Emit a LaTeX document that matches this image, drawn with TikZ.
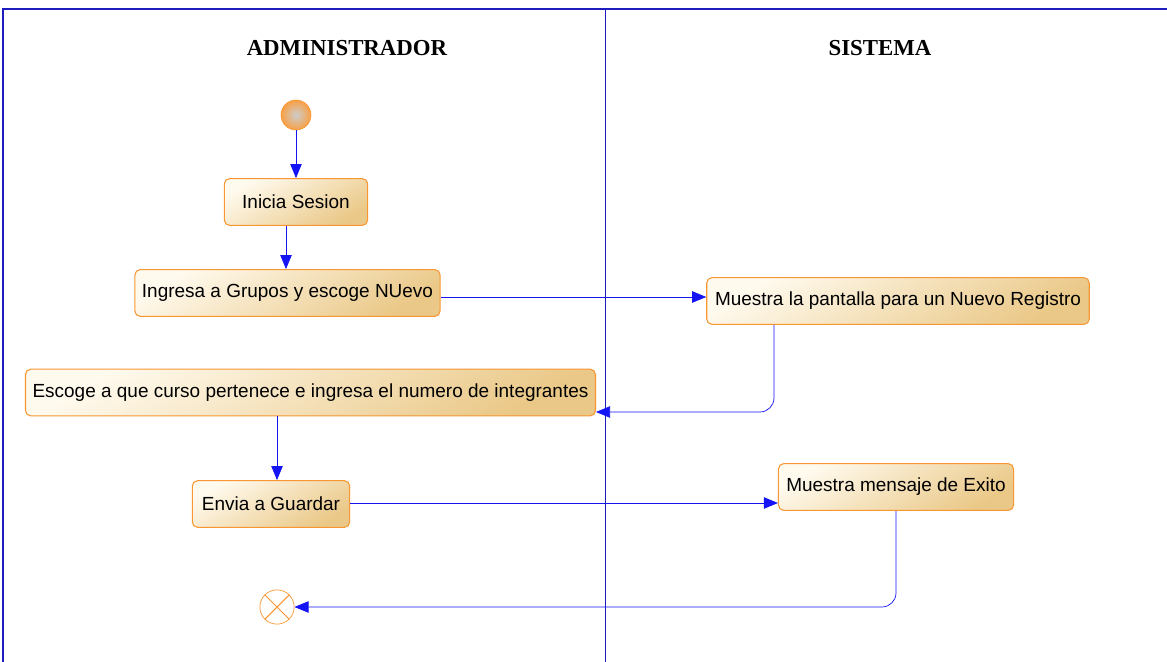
\documentclass[tikz,border=0pt]{standalone}
\usepackage{fontspec}
\setmainfont{Liberation Sans}
\newfontfamily\headfont{Liberation Serif}
\usepackage{tikz}
\usetikzlibrary{arrows.meta,positioning}

\definecolor{actborder}{RGB}{247,150,50}
\definecolor{actlight}{RGB}{255,250,238}
\definecolor{actdark}{RGB}{234,200,135}
\definecolor{flowblue}{RGB}{20,20,245}
\definecolor{lanecol}{RGB}{30,30,190}

\begin{document}
\begin{tikzpicture}[
  x=0.02cm, y=-0.02cm,
  activity/.style={rectangle, rounded corners=3pt, draw=actborder, semithick,
                   top color=actlight, bottom color=actdark, shading angle=30,
                   minimum height=26.6pt, inner xsep=4pt, font=\fontsize{10.8}{12}\selectfont},
  lanehead/.style={font=\headfont\bfseries\fontsize{13}{15}\selectfont},
  flow/.style={-{Triangle[length=8pt,width=6.5pt]}, flowblue, rounded corners=8pt}
]
\useasboundingbox (0,0) rectangle (1167,662);

% swimlanes
\draw[lanecol, thick] (3,662) -- (3,9) -- (1167,9);
\draw[lanecol] (605,9) -- (605,662);
\node[lanehead] (admin) at (347,48) {ADMINISTRADOR};
\node[lanehead] (sistema) at (880,48) {SISTEMA};

% start / end
\node[circle, draw=actborder, minimum size=17pt, inner sep=0pt,
      inner color=gray!40, outer color=actborder!90] (inicio) at (296,115) {};
\node[circle, draw=actborder, minimum size=19.5pt, inner sep=0pt, fill=white] (fin) at (277,607) {};
\draw[actborder, semithick] (fin.north west) -- (fin.south east)
                            (fin.north east) -- (fin.south west);

% activities
\node[activity, minimum width=81.6pt] (sesion) at (296,202) {Inicia Sesion};
\node[activity, minimum width=170.6pt] (grupos) at (287.5,293) {Ingresa a Grupos y escoge NUevo};
\node[activity, minimum width=217.7pt] (pantalla) at (898,301) {Muestra la pantalla para un Nuevo Registro};
\node[activity, minimum width=323.7pt] (curso) at (310.5,392.5) {Escoge a que curso pertenece e ingresa el numero de integrantes};
\node[activity, minimum width=89.5pt] (guardar) at (271,504) {Envia a Guardar};
\node[activity, minimum width=133.8pt] (exito) at (896,487) {Muestra mensaje de Exito};

% flows
\draw[flow] (inicio) -- (sesion);
\draw[flow] (sesion.south -| 286,0) -- (grupos.north -| 286,0);
\draw[flow] (grupos.east |- 0,297) -- (pantalla.west |- 0,297);
\draw[flow] (pantalla.south -| 774,0) |- (curso.east |- 0,412);
\draw[flow] (curso.south -| 277,0) -- (guardar.north -| 277,0);
\draw[flow] (guardar.east |- 0,503) -- (exito.west |- 0,503);
\draw[flow] (exito.south) |- (fin);

\end{tikzpicture}
\end{document}
